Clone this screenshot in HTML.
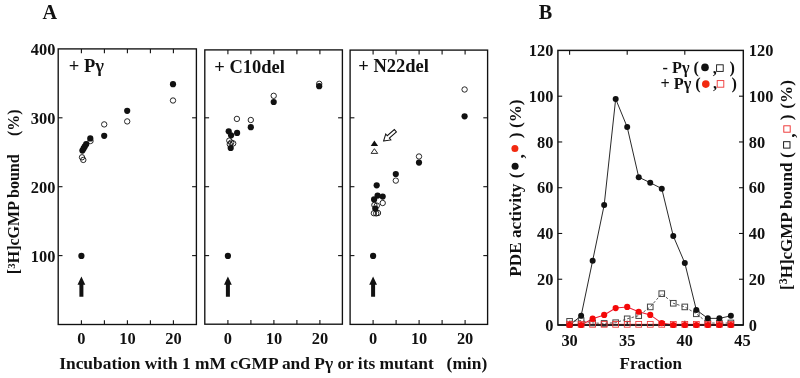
<!DOCTYPE html>
<html><head><meta charset="utf-8"><style>
html,body{margin:0;padding:0;background:#fff;width:800px;height:378px;overflow:hidden}
svg{display:block;will-change:transform;filter:blur(0.3px)}
*{-webkit-font-smoothing:antialiased}
text{font-family:"Liberation Serif", serif;font-weight:bold;fill:#111}
</style></head><body>
<svg width="800" height="378" viewBox="0 0 800 378">
<rect width="800" height="378" fill="#fff"/>
<rect x="58.2" y="48.9" width="138.20" height="275.60" fill="none" stroke="#111" stroke-width="1.35"/>
<line x1="81.40" y1="48.9" x2="81.40" y2="53.199999999999996" stroke="#111" stroke-width="1.1"/>
<line x1="81.40" y1="324.5" x2="81.40" y2="320.2" stroke="#111" stroke-width="1.1"/>
<line x1="104.40" y1="48.9" x2="104.40" y2="53.199999999999996" stroke="#111" stroke-width="1.1"/>
<line x1="104.40" y1="324.5" x2="104.40" y2="320.2" stroke="#111" stroke-width="1.1"/>
<line x1="127.40" y1="48.9" x2="127.40" y2="53.199999999999996" stroke="#111" stroke-width="1.1"/>
<line x1="127.40" y1="324.5" x2="127.40" y2="320.2" stroke="#111" stroke-width="1.1"/>
<line x1="150.40" y1="48.9" x2="150.40" y2="53.199999999999996" stroke="#111" stroke-width="1.1"/>
<line x1="150.40" y1="324.5" x2="150.40" y2="320.2" stroke="#111" stroke-width="1.1"/>
<line x1="173.40" y1="48.9" x2="173.40" y2="53.199999999999996" stroke="#111" stroke-width="1.1"/>
<line x1="173.40" y1="324.5" x2="173.40" y2="320.2" stroke="#111" stroke-width="1.1"/>
<line x1="58.2" y1="255.60" x2="62.5" y2="255.60" stroke="#111" stroke-width="1.1"/>
<line x1="196.4" y1="255.60" x2="192.1" y2="255.60" stroke="#111" stroke-width="1.1"/>
<line x1="58.2" y1="186.70" x2="62.5" y2="186.70" stroke="#111" stroke-width="1.1"/>
<line x1="196.4" y1="186.70" x2="192.1" y2="186.70" stroke="#111" stroke-width="1.1"/>
<line x1="58.2" y1="117.80" x2="62.5" y2="117.80" stroke="#111" stroke-width="1.1"/>
<line x1="196.4" y1="117.80" x2="192.1" y2="117.80" stroke="#111" stroke-width="1.1"/>
<text x="81.40" y="343.6" text-anchor="middle" font-size="16.4">0</text>
<text x="127.40" y="343.6" text-anchor="middle" font-size="16.4">10</text>
<text x="173.40" y="343.6" text-anchor="middle" font-size="16.4">20</text>
<circle cx="81.40" cy="255.9" r="3.1" fill="#111"/>
<path d="M81.40 276.6 L85.30 284.8 L83.40 284.8 L83.40 296.8 L79.40 296.8 L79.40 284.8 L77.50 284.8 Z" fill="#111"/>
<rect x="204.8" y="49.9" width="137.60" height="274.30" fill="none" stroke="#111" stroke-width="1.35"/>
<line x1="227.90" y1="49.9" x2="227.90" y2="54.199999999999996" stroke="#111" stroke-width="1.1"/>
<line x1="227.90" y1="324.2" x2="227.90" y2="319.9" stroke="#111" stroke-width="1.1"/>
<line x1="250.90" y1="49.9" x2="250.90" y2="54.199999999999996" stroke="#111" stroke-width="1.1"/>
<line x1="250.90" y1="324.2" x2="250.90" y2="319.9" stroke="#111" stroke-width="1.1"/>
<line x1="273.90" y1="49.9" x2="273.90" y2="54.199999999999996" stroke="#111" stroke-width="1.1"/>
<line x1="273.90" y1="324.2" x2="273.90" y2="319.9" stroke="#111" stroke-width="1.1"/>
<line x1="296.90" y1="49.9" x2="296.90" y2="54.199999999999996" stroke="#111" stroke-width="1.1"/>
<line x1="296.90" y1="324.2" x2="296.90" y2="319.9" stroke="#111" stroke-width="1.1"/>
<line x1="319.90" y1="49.9" x2="319.90" y2="54.199999999999996" stroke="#111" stroke-width="1.1"/>
<line x1="319.90" y1="324.2" x2="319.90" y2="319.9" stroke="#111" stroke-width="1.1"/>
<line x1="204.8" y1="255.60" x2="209.10000000000002" y2="255.60" stroke="#111" stroke-width="1.1"/>
<line x1="342.4" y1="255.60" x2="338.09999999999997" y2="255.60" stroke="#111" stroke-width="1.1"/>
<line x1="204.8" y1="186.70" x2="209.10000000000002" y2="186.70" stroke="#111" stroke-width="1.1"/>
<line x1="342.4" y1="186.70" x2="338.09999999999997" y2="186.70" stroke="#111" stroke-width="1.1"/>
<line x1="204.8" y1="117.80" x2="209.10000000000002" y2="117.80" stroke="#111" stroke-width="1.1"/>
<line x1="342.4" y1="117.80" x2="338.09999999999997" y2="117.80" stroke="#111" stroke-width="1.1"/>
<text x="227.90" y="343.6" text-anchor="middle" font-size="16.4">0</text>
<text x="273.90" y="343.6" text-anchor="middle" font-size="16.4">10</text>
<text x="319.90" y="343.6" text-anchor="middle" font-size="16.4">20</text>
<circle cx="227.90" cy="255.9" r="3.1" fill="#111"/>
<path d="M227.90 276.6 L231.80 284.8 L229.90 284.8 L229.90 296.8 L225.90 296.8 L225.90 284.8 L224.00 284.8 Z" fill="#111"/>
<rect x="350.1" y="50.1" width="137.50" height="274.30" fill="none" stroke="#111" stroke-width="1.35"/>
<line x1="373.10" y1="50.1" x2="373.10" y2="54.4" stroke="#111" stroke-width="1.1"/>
<line x1="373.10" y1="324.4" x2="373.10" y2="320.09999999999997" stroke="#111" stroke-width="1.1"/>
<line x1="396.10" y1="50.1" x2="396.10" y2="54.4" stroke="#111" stroke-width="1.1"/>
<line x1="396.10" y1="324.4" x2="396.10" y2="320.09999999999997" stroke="#111" stroke-width="1.1"/>
<line x1="419.10" y1="50.1" x2="419.10" y2="54.4" stroke="#111" stroke-width="1.1"/>
<line x1="419.10" y1="324.4" x2="419.10" y2="320.09999999999997" stroke="#111" stroke-width="1.1"/>
<line x1="442.10" y1="50.1" x2="442.10" y2="54.4" stroke="#111" stroke-width="1.1"/>
<line x1="442.10" y1="324.4" x2="442.10" y2="320.09999999999997" stroke="#111" stroke-width="1.1"/>
<line x1="465.10" y1="50.1" x2="465.10" y2="54.4" stroke="#111" stroke-width="1.1"/>
<line x1="465.10" y1="324.4" x2="465.10" y2="320.09999999999997" stroke="#111" stroke-width="1.1"/>
<line x1="350.1" y1="255.60" x2="354.40000000000003" y2="255.60" stroke="#111" stroke-width="1.1"/>
<line x1="487.6" y1="255.60" x2="483.3" y2="255.60" stroke="#111" stroke-width="1.1"/>
<line x1="350.1" y1="186.70" x2="354.40000000000003" y2="186.70" stroke="#111" stroke-width="1.1"/>
<line x1="487.6" y1="186.70" x2="483.3" y2="186.70" stroke="#111" stroke-width="1.1"/>
<line x1="350.1" y1="117.80" x2="354.40000000000003" y2="117.80" stroke="#111" stroke-width="1.1"/>
<line x1="487.6" y1="117.80" x2="483.3" y2="117.80" stroke="#111" stroke-width="1.1"/>
<text x="373.10" y="343.6" text-anchor="middle" font-size="16.4">0</text>
<text x="419.10" y="343.6" text-anchor="middle" font-size="16.4">10</text>
<text x="465.10" y="343.6" text-anchor="middle" font-size="16.4">20</text>
<circle cx="373.10" cy="255.9" r="3.1" fill="#111"/>
<path d="M373.10 276.6 L377.00 284.8 L375.10 284.8 L375.10 296.8 L371.10 296.8 L371.10 284.8 L369.20 284.8 Z" fill="#111"/>
<text x="55.4" y="261.60" text-anchor="end" font-size="16.4">100</text>
<text x="55.4" y="192.70" text-anchor="end" font-size="16.4">200</text>
<text x="55.4" y="123.80" text-anchor="end" font-size="16.4">300</text>
<text x="55.4" y="54.90" text-anchor="end" font-size="16.4">400</text>
<text x="68.8" y="72.4" font-size="18.5">+ P&#947;</text>
<text x="214.3" y="72.5" font-size="18.5">+ C10del</text>
<text x="358.3" y="72.3" font-size="18.5">+ N22del</text>
<circle cx="82.00" cy="157.30" r="2.7" fill="none" stroke="#111" stroke-width="0.9"/>
<circle cx="83.30" cy="159.90" r="2.7" fill="none" stroke="#111" stroke-width="0.9"/>
<circle cx="90.50" cy="141.00" r="2.7" fill="none" stroke="#111" stroke-width="0.9"/>
<circle cx="104.20" cy="124.40" r="2.7" fill="none" stroke="#111" stroke-width="0.9"/>
<circle cx="127.20" cy="121.40" r="2.7" fill="none" stroke="#111" stroke-width="0.9"/>
<circle cx="173.00" cy="100.50" r="2.7" fill="none" stroke="#111" stroke-width="0.9"/>
<circle cx="82.40" cy="150.60" r="3.1" fill="#111"/>
<circle cx="83.60" cy="148.40" r="3.1" fill="#111"/>
<circle cx="84.80" cy="146.40" r="3.1" fill="#111"/>
<circle cx="86.20" cy="144.20" r="3.1" fill="#111"/>
<circle cx="90.30" cy="138.40" r="3.1" fill="#111"/>
<circle cx="104.20" cy="135.80" r="3.1" fill="#111"/>
<circle cx="127.20" cy="110.80" r="3.1" fill="#111"/>
<circle cx="173.00" cy="84.20" r="3.1" fill="#111"/>
<circle cx="229.30" cy="140.60" r="2.7" fill="none" stroke="#111" stroke-width="0.9"/>
<circle cx="231.20" cy="142.60" r="2.7" fill="none" stroke="#111" stroke-width="0.9"/>
<circle cx="233.20" cy="143.40" r="2.7" fill="none" stroke="#111" stroke-width="0.9"/>
<circle cx="229.80" cy="144.20" r="2.7" fill="none" stroke="#111" stroke-width="0.9"/>
<circle cx="236.90" cy="118.90" r="2.7" fill="none" stroke="#111" stroke-width="0.9"/>
<circle cx="250.80" cy="120.00" r="2.7" fill="none" stroke="#111" stroke-width="0.9"/>
<circle cx="273.70" cy="95.80" r="2.7" fill="none" stroke="#111" stroke-width="0.9"/>
<circle cx="319.20" cy="83.80" r="2.7" fill="none" stroke="#111" stroke-width="0.9"/>
<circle cx="228.70" cy="131.30" r="3.1" fill="#111"/>
<circle cx="237.10" cy="132.90" r="3.1" fill="#111"/>
<circle cx="231.10" cy="135.30" r="3.1" fill="#111"/>
<circle cx="230.70" cy="148.00" r="3.1" fill="#111"/>
<circle cx="250.80" cy="127.20" r="3.1" fill="#111"/>
<circle cx="273.70" cy="102.00" r="3.1" fill="#111"/>
<circle cx="319.20" cy="86.20" r="3.1" fill="#111"/>
<circle cx="373.90" cy="213.20" r="2.7" fill="none" stroke="#111" stroke-width="0.9"/>
<circle cx="376.20" cy="213.40" r="2.7" fill="none" stroke="#111" stroke-width="0.9"/>
<circle cx="378.00" cy="213.00" r="2.7" fill="none" stroke="#111" stroke-width="0.9"/>
<circle cx="374.40" cy="205.00" r="2.7" fill="none" stroke="#111" stroke-width="0.9"/>
<circle cx="376.80" cy="205.60" r="2.7" fill="none" stroke="#111" stroke-width="0.9"/>
<circle cx="382.70" cy="203.00" r="2.7" fill="none" stroke="#111" stroke-width="0.9"/>
<circle cx="395.80" cy="180.60" r="2.7" fill="none" stroke="#111" stroke-width="0.9"/>
<circle cx="419.00" cy="156.50" r="2.7" fill="none" stroke="#111" stroke-width="0.9"/>
<circle cx="464.60" cy="89.50" r="2.7" fill="none" stroke="#111" stroke-width="0.9"/>
<circle cx="376.70" cy="185.30" r="3.1" fill="#111"/>
<circle cx="377.60" cy="195.60" r="3.1" fill="#111"/>
<circle cx="382.70" cy="196.60" r="3.1" fill="#111"/>
<circle cx="374.10" cy="199.40" r="3.1" fill="#111"/>
<circle cx="375.30" cy="208.60" r="3.1" fill="#111"/>
<circle cx="395.80" cy="174.00" r="3.1" fill="#111"/>
<circle cx="419.00" cy="162.60" r="3.1" fill="#111"/>
<circle cx="464.60" cy="116.30" r="3.1" fill="#111"/>
<path d="M374.4 140.6 L378.1 146.0 L370.7 146.0 Z" fill="#111"/>
<path d="M374.4 148.7 L377.7 153.4 L371.1 153.4 Z" fill="none" stroke="#111" stroke-width="0.9"/>
<g transform="translate(383.6 141.0) rotate(139.1)"><path d="M0 0 L-6.2 -3.9 L-6.2 -1.6 L-15.6 -1.6 L-15.6 1.6 L-6.2 1.6 L-6.2 3.9 Z" fill="#fff" stroke="#111" stroke-width="1.0" stroke-linejoin="miter"/></g>
<text x="59.2" y="369.4" font-size="17.4">Incubation with 1 mM cGMP and P&#947; or its mutant</text>
<text x="446.6" y="369.4" font-size="17.4">(min)</text>
<g transform="translate(19.0 274.2) rotate(-90)"><text x="0" y="0" font-size="16">[<tspan font-size="10.8" dy="-4.3" dx="0.2">3</tspan><tspan dy="4.3">H]cGMP bound</tspan></text><text x="138.2" y="0" font-size="16">(%)</text></g>
<text x="42.6" y="18.8" font-size="20.2">A</text>
<text x="538.8" y="19" font-size="20.2">B</text>
<rect x="557.9" y="50.4" width="185.40" height="274.60" fill="none" stroke="#111" stroke-width="1.45"/>
<line x1="569.60" y1="50.4" x2="569.60" y2="54.699999999999996" stroke="#111" stroke-width="1.1"/>
<line x1="569.60" y1="325.0" x2="569.60" y2="320.7" stroke="#111" stroke-width="1.1"/>
<line x1="627.20" y1="50.4" x2="627.20" y2="54.699999999999996" stroke="#111" stroke-width="1.1"/>
<line x1="627.20" y1="325.0" x2="627.20" y2="320.7" stroke="#111" stroke-width="1.1"/>
<line x1="684.80" y1="50.4" x2="684.80" y2="54.699999999999996" stroke="#111" stroke-width="1.1"/>
<line x1="684.80" y1="325.0" x2="684.80" y2="320.7" stroke="#111" stroke-width="1.1"/>
<line x1="557.9" y1="279.24" x2="562.1999999999999" y2="279.24" stroke="#111" stroke-width="1.1"/>
<line x1="743.3" y1="279.24" x2="739.0" y2="279.24" stroke="#111" stroke-width="1.1"/>
<line x1="557.9" y1="233.48" x2="562.1999999999999" y2="233.48" stroke="#111" stroke-width="1.1"/>
<line x1="743.3" y1="233.48" x2="739.0" y2="233.48" stroke="#111" stroke-width="1.1"/>
<line x1="557.9" y1="187.72" x2="562.1999999999999" y2="187.72" stroke="#111" stroke-width="1.1"/>
<line x1="743.3" y1="187.72" x2="739.0" y2="187.72" stroke="#111" stroke-width="1.1"/>
<line x1="557.9" y1="141.96" x2="562.1999999999999" y2="141.96" stroke="#111" stroke-width="1.1"/>
<line x1="743.3" y1="141.96" x2="739.0" y2="141.96" stroke="#111" stroke-width="1.1"/>
<line x1="557.9" y1="96.20" x2="562.1999999999999" y2="96.20" stroke="#111" stroke-width="1.1"/>
<line x1="743.3" y1="96.20" x2="739.0" y2="96.20" stroke="#111" stroke-width="1.1"/>
<text x="553.4" y="330.60" text-anchor="end" font-size="16.4">0</text>
<text x="748.8" y="330.60" font-size="16.4">0</text>
<text x="553.4" y="284.84" text-anchor="end" font-size="16.4">20</text>
<text x="748.8" y="284.84" font-size="16.4">20</text>
<text x="553.4" y="239.08" text-anchor="end" font-size="16.4">40</text>
<text x="748.8" y="239.08" font-size="16.4">40</text>
<text x="553.4" y="193.32" text-anchor="end" font-size="16.4">60</text>
<text x="748.8" y="193.32" font-size="16.4">60</text>
<text x="553.4" y="147.56" text-anchor="end" font-size="16.4">80</text>
<text x="748.8" y="147.56" font-size="16.4">80</text>
<text x="553.4" y="101.80" text-anchor="end" font-size="16.4">100</text>
<text x="748.8" y="101.80" font-size="16.4">100</text>
<text x="553.4" y="56.04" text-anchor="end" font-size="16.4">120</text>
<text x="748.8" y="56.04" font-size="16.4">120</text>
<text x="569.60" y="345.6" text-anchor="middle" font-size="16.4">30</text>
<text x="627.20" y="345.6" text-anchor="middle" font-size="16.4">35</text>
<text x="684.80" y="345.6" text-anchor="middle" font-size="16.4">40</text>
<text x="742.40" y="345.6" text-anchor="middle" font-size="16.4">45</text>
<text x="619.6" y="369.4" font-size="17">Fraction</text>
<polyline points="569.60,324.31 581.12,324.31 592.64,324.31 604.16,324.31 615.68,324.31 627.20,324.31 638.72,324.31 650.24,324.31 661.76,324.31 673.28,324.31 684.80,324.31 696.32,324.31 707.84,324.31 719.36,324.31 730.88,324.31" fill="none" stroke="#ee3333" stroke-width="0.8"/>
<polyline points="569.60,321.34 581.12,320.65 592.64,322.94 604.16,323.40 615.68,322.71 627.20,318.82 638.72,315.62 650.24,306.92 661.76,293.65 673.28,303.26 684.80,306.92 696.32,313.79 707.84,322.94 719.36,323.17 730.88,322.94" fill="none" stroke="#444" stroke-width="0.9" stroke-dasharray="2.5 2"/>
<polyline points="569.60,325.00 581.12,315.85 592.64,260.71 604.16,205.11 615.68,98.95 627.20,127.09 638.72,177.20 650.24,182.69 661.76,188.64 673.28,236.00 684.80,263.00 696.32,309.90 707.84,318.36 719.36,318.36 730.88,315.85" fill="none" stroke="#111" stroke-width="0.9"/>
<polyline points="569.60,325.00 581.12,325.00 592.64,318.71 604.16,314.93 615.68,308.07 627.20,306.92 638.72,311.73 650.24,314.93 661.76,323.06 673.28,325.00 684.80,325.00 696.32,325.00 707.84,325.00 719.36,325.00 730.88,325.00" fill="none" stroke="#ea1c34" stroke-width="1.05"/>
<line x1="557.9" y1="325.0" x2="743.3" y2="325.0" stroke="#111" stroke-width="1.45"/>
<rect x="566.80" y="318.54" width="5.6" height="5.6" fill="none" stroke="#444" stroke-width="1.0"/>
<rect x="578.32" y="317.85" width="5.6" height="5.6" fill="none" stroke="#444" stroke-width="1.0"/>
<rect x="589.84" y="320.14" width="5.6" height="5.6" fill="none" stroke="#444" stroke-width="1.0"/>
<rect x="601.36" y="320.60" width="5.6" height="5.6" fill="none" stroke="#444" stroke-width="1.0"/>
<rect x="612.88" y="319.91" width="5.6" height="5.6" fill="none" stroke="#444" stroke-width="1.0"/>
<rect x="624.40" y="316.02" width="5.6" height="5.6" fill="none" stroke="#444" stroke-width="1.0"/>
<rect x="635.92" y="312.82" width="5.6" height="5.6" fill="none" stroke="#444" stroke-width="1.0"/>
<rect x="647.44" y="304.12" width="5.6" height="5.6" fill="none" stroke="#444" stroke-width="1.0"/>
<rect x="658.96" y="290.85" width="5.6" height="5.6" fill="none" stroke="#444" stroke-width="1.0"/>
<rect x="670.48" y="300.46" width="5.6" height="5.6" fill="none" stroke="#444" stroke-width="1.0"/>
<rect x="682.00" y="304.12" width="5.6" height="5.6" fill="none" stroke="#444" stroke-width="1.0"/>
<rect x="693.52" y="310.99" width="5.6" height="5.6" fill="none" stroke="#444" stroke-width="1.0"/>
<rect x="705.04" y="320.14" width="5.6" height="5.6" fill="none" stroke="#444" stroke-width="1.0"/>
<rect x="716.56" y="320.37" width="5.6" height="5.6" fill="none" stroke="#444" stroke-width="1.0"/>
<rect x="728.08" y="320.14" width="5.6" height="5.6" fill="none" stroke="#444" stroke-width="1.0"/>
<rect x="566.70" y="321.41" width="5.8" height="5.8" fill="none" stroke="#ee3333" stroke-width="0.85"/>
<rect x="578.22" y="321.41" width="5.8" height="5.8" fill="none" stroke="#ee3333" stroke-width="0.85"/>
<rect x="589.74" y="321.41" width="5.8" height="5.8" fill="none" stroke="#ee3333" stroke-width="0.85"/>
<rect x="601.26" y="321.41" width="5.8" height="5.8" fill="none" stroke="#ee3333" stroke-width="0.85"/>
<rect x="612.78" y="321.41" width="5.8" height="5.8" fill="none" stroke="#ee3333" stroke-width="0.85"/>
<rect x="624.30" y="321.41" width="5.8" height="5.8" fill="none" stroke="#ee3333" stroke-width="0.85"/>
<rect x="635.82" y="321.41" width="5.8" height="5.8" fill="none" stroke="#ee3333" stroke-width="0.85"/>
<rect x="647.34" y="321.41" width="5.8" height="5.8" fill="none" stroke="#ee3333" stroke-width="0.85"/>
<rect x="658.86" y="321.41" width="5.8" height="5.8" fill="none" stroke="#ee3333" stroke-width="0.85"/>
<rect x="670.38" y="321.41" width="5.8" height="5.8" fill="none" stroke="#ee3333" stroke-width="0.85"/>
<rect x="681.90" y="321.41" width="5.8" height="5.8" fill="none" stroke="#ee3333" stroke-width="0.85"/>
<rect x="693.42" y="321.41" width="5.8" height="5.8" fill="none" stroke="#ee3333" stroke-width="0.85"/>
<rect x="704.94" y="321.41" width="5.8" height="5.8" fill="none" stroke="#ee3333" stroke-width="0.85"/>
<rect x="716.46" y="321.41" width="5.8" height="5.8" fill="none" stroke="#ee3333" stroke-width="0.85"/>
<rect x="727.98" y="321.41" width="5.8" height="5.8" fill="none" stroke="#ee3333" stroke-width="0.85"/>
<circle cx="569.60" cy="325.00" r="3.0" fill="#111"/>
<circle cx="581.12" cy="315.85" r="3.0" fill="#111"/>
<circle cx="592.64" cy="260.71" r="3.0" fill="#111"/>
<circle cx="604.16" cy="205.11" r="3.0" fill="#111"/>
<circle cx="615.68" cy="98.95" r="3.0" fill="#111"/>
<circle cx="627.20" cy="127.09" r="3.0" fill="#111"/>
<circle cx="638.72" cy="177.20" r="3.0" fill="#111"/>
<circle cx="650.24" cy="182.69" r="3.0" fill="#111"/>
<circle cx="661.76" cy="188.64" r="3.0" fill="#111"/>
<circle cx="673.28" cy="236.00" r="3.0" fill="#111"/>
<circle cx="684.80" cy="263.00" r="3.0" fill="#111"/>
<circle cx="696.32" cy="309.90" r="3.0" fill="#111"/>
<circle cx="707.84" cy="318.36" r="3.0" fill="#111"/>
<circle cx="719.36" cy="318.36" r="3.0" fill="#111"/>
<circle cx="730.88" cy="315.85" r="3.0" fill="#111"/>
<circle cx="569.60" cy="325.00" r="3.1" fill="#f40808"/>
<circle cx="581.12" cy="325.00" r="3.1" fill="#f40808"/>
<circle cx="592.64" cy="318.71" r="3.1" fill="#f40808"/>
<circle cx="604.16" cy="314.93" r="3.1" fill="#f40808"/>
<circle cx="615.68" cy="308.07" r="3.1" fill="#f40808"/>
<circle cx="627.20" cy="306.92" r="3.1" fill="#f40808"/>
<circle cx="638.72" cy="311.73" r="3.1" fill="#f40808"/>
<circle cx="650.24" cy="314.93" r="3.1" fill="#f40808"/>
<circle cx="661.76" cy="323.06" r="3.1" fill="#f40808"/>
<circle cx="673.28" cy="325.00" r="3.1" fill="#f40808"/>
<circle cx="684.80" cy="325.00" r="3.1" fill="#f40808"/>
<circle cx="696.32" cy="325.00" r="3.1" fill="#f40808"/>
<circle cx="707.84" cy="325.00" r="3.1" fill="#f40808"/>
<circle cx="719.36" cy="325.00" r="3.1" fill="#f40808"/>
<circle cx="730.88" cy="325.00" r="3.1" fill="#f40808"/>
<text x="662.6" y="73.0" font-size="16.2">- P&#947; (</text>
<circle cx="705.0" cy="67.4" r="3.8" fill="#111"/>
<text x="712.8" y="73.6" font-size="16.2">,</text>
<rect x="716.6" y="64.8" width="6.6" height="6.6" fill="none" stroke="#111" stroke-width="0.9"/>
<text x="729.4" y="73.3" font-size="16.2">)</text>
<text x="660.6" y="89.0" font-size="16.2">+ P&#947; (</text>
<circle cx="705.8" cy="84.1" r="3.8" fill="#f22a10"/>
<text x="712.9" y="89.2" font-size="16.2">,</text>
<rect x="717.2" y="80.6" width="6.6" height="6.6" fill="none" stroke="#ee3333" stroke-width="0.9"/>
<text x="731.4" y="89.0" font-size="16.2">)</text>
<g transform="translate(521.0 276.7) rotate(-90)"><text x="0.01" y="0" font-size="17.2">PDE activity</text><text x="98.44" y="0" font-size="17.2">(</text><circle cx="110.40" cy="-5.90" r="3.5" fill="#111"/><text x="118.08" y="3.2" font-size="17.2">,</text><circle cx="128.10" cy="-6.10" r="3.5" fill="#f22a10"/><text x="138.55" y="0" font-size="17.2">)</text><text x="148.64" y="0" font-size="17.2">(%)</text></g>
<g transform="translate(791.5 290.0) rotate(-90)"><text x="0" y="0" font-size="17.0">[<tspan font-size="11.6" dy="-4.6" dx="0.2">3</tspan><tspan dy="4.6">H]cGMP bound</tspan></text><text x="132.14" y="0" font-size="17.2">(</text><rect x="141.90" y="-7.90" width="6.4" height="6.4" fill="none" stroke="#111" stroke-width="0.95"/><text x="152.28" y="3.2" font-size="17.2">,</text><rect x="157.80" y="-7.70" width="6.4" height="6.4" fill="none" stroke="#ee3333" stroke-width="0.95"/><text x="169.65" y="0" font-size="17.2">)</text><text x="181.34" y="0" font-size="17.2">(%)</text></g>
</svg>
</body></html>
